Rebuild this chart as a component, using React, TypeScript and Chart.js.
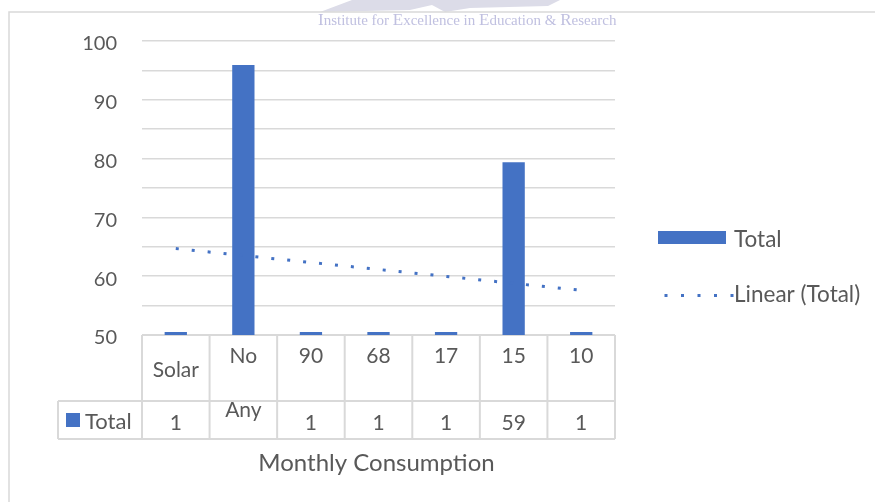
import React, { useEffect, useRef } from "react";
import { Chart, registerables } from "chart.js";

Chart.register(...registerables);

// ---- data ----
const categories: string[] = ["Solar", "No Any", "90", "68", "17", "15", "10"];
const barValues: number[] = [50.5, 95.9, 50.5, 50.5, 50.5, 79.4, 50.5];
const tableValues: string[] = ["1", "", "1", "1", "1", "59", "1"];
const trendStart = 64.7;
const trendEnd = 57.6;
const yMin = 50;
const yMax = 100;
const yStep = 5;
const yLabelEvery = 10;
const seriesName = "Total";
const trendName = "Linear (Total)";
const axisTitle = "Monthly Consumption";
const watermark = "Institute for Excellence in Education & Research";

// ---- styles ----
const BLUE = "#4472C4";
const GRID = "#d9d9d9";
const TEXT = "#595959";
const FONT = "Lato, 'Open Sans', sans-serif";

const trendData: (number | null)[] = categories.map((_, i) =>
  i === 0 ? trendStart : i === categories.length - 1 ? trendEnd : null
);

function line(ctx: CanvasRenderingContext2D, x1: number, y1: number, x2: number, y2: number) {
  ctx.beginPath();
  ctx.moveTo(x1, y1);
  ctx.lineTo(x2, y2);
  ctx.stroke();
}

const decorPlugin = {
  id: "decor",
  beforeDraw(chart: any) {
    const ctx: CanvasRenderingContext2D = chart.ctx;
    ctx.save();
    ctx.fillStyle = "#ffffff";
    ctx.fillRect(0, 0, chart.width, chart.height);
    // faint logo shape
    ctx.fillStyle = "#dcdce8";
    ctx.beginPath();
    ctx.moveTo(320, 12);
    ctx.lineTo(352, 0);
    ctx.lineTo(560, 0);
    ctx.lineTo(548, 6);
    ctx.lineTo(470, 8);
    ctx.lineTo(445, 12);
    ctx.lineTo(432, 5);
    ctx.lineTo(410, 10);
    ctx.closePath();
    ctx.fill();
    // outer border
    ctx.strokeStyle = GRID;
    ctx.lineWidth = 1.5;
    ctx.beginPath();
    ctx.moveTo(9, chart.height);
    ctx.lineTo(9, 12);
    ctx.lineTo(chart.width, 12);
    ctx.stroke();
    // watermark
    ctx.fillStyle = "#c0c0e0";
    ctx.textBaseline = "alphabetic";
    ctx.textAlign = "left";
    let x = 318;
    const y = 25;
    for (const ch of watermark) {
      const big = ch >= "A" && ch <= "Z";
      ctx.font = `${big ? 17 : 15}px 'Liberation Serif', 'Times New Roman', serif`;
      ctx.fillText(ch, x, y);
      x += ctx.measureText(ch).width;
    }
    ctx.restore();
  },
  beforeDatasetsDraw(chart: any) {
    const ctx: CanvasRenderingContext2D = chart.ctx;
    const { left, right, bottom } = chart.chartArea;
    const n = categories.length;
    const colW = (right - left) / n;
    const row1B = bottom + 66;
    const row2B = row1B + 38;
    const keyLeft = left - 84;
    ctx.save();
    ctx.strokeStyle = GRID;
    ctx.lineWidth = 2;
    line(ctx, left, bottom, right, bottom);
    line(ctx, keyLeft, row1B, right, row1B);
    line(ctx, keyLeft, row2B, right, row2B);
    for (let i = 0; i <= n; i++) {
      const xv = left + i * colW;
      line(ctx, xv, bottom, xv, row2B);
    }
    line(ctx, keyLeft, row1B, keyLeft, row2B);
    ctx.restore();
  },
  afterDraw(chart: any) {
    const ctx: CanvasRenderingContext2D = chart.ctx;
    const { left, right, bottom } = chart.chartArea;
    const xs = chart.scales.x;
    const row1B = bottom + 66;
    const keyLeft = left - 84;
    ctx.save();
    ctx.fillStyle = TEXT;
    ctx.font = `21px ${FONT}`;
    ctx.textAlign = "center";
    ctx.textBaseline = "middle";
    categories.forEach((lbl, i) => {
      const cx = xs.getPixelForValue(i);
      const lines = lbl.split(" ");
      const numeric = /^\d+$/.test(lbl);
      if (lines.length === 1 && !numeric) {
        ctx.fillText(lbl, cx, bottom + 35);
      } else {
        lines.forEach((t, k) => ctx.fillText(t, cx, bottom + 21 + k * 54));
      }
      if (tableValues[i]) ctx.fillText(tableValues[i], cx, row1B + 22);
    });
    // key cell
    ctx.fillStyle = BLUE;
    ctx.fillRect(keyLeft + 8, row1B + 12, 14, 14);
    ctx.fillStyle = TEXT;
    ctx.font = `22px ${FONT}`;
    ctx.textAlign = "left";
    ctx.fillText(seriesName, keyLeft + 27, row1B + 21);
    // axis title
    ctx.font = `24px ${FONT}`;
    ctx.textAlign = "center";
    ctx.fillText(axisTitle, (left + right) / 2 - 2, bottom + 128);
    // legend
    ctx.fillStyle = BLUE;
    ctx.fillRect(658, 231, 68, 13);
    for (let x = 664.5; x <= 732; x += 16.5) {
      ctx.fillRect(x, 294, 3, 3);
    }
    ctx.fillStyle = TEXT;
    ctx.font = `22.5px ${FONT}`;
    ctx.textAlign = "left";
    ctx.fillText(seriesName, 734, 240);
    ctx.fillText(trendName, 734, 295);
    ctx.restore();
  },
};

export default function App() {
  const ref = useRef<HTMLCanvasElement | null>(null);
  useEffect(() => {
    document.body.style.margin = "0";
    const canvas = ref.current!;
    const chart = new Chart(canvas, {
      type: "bar",
      data: {
        labels: categories,
        datasets: [
          {
            type: "line",
            label: trendName,
            data: trendData,
            borderColor: BLUE,
            borderWidth: 3,
            borderDash: [3, 13],
            borderCapStyle: "butt",
            pointRadius: 0,
            spanGaps: true,
            fill: false,
            order: 0,
          } as any,
          {
            type: "bar",
            label: seriesName,
            data: barValues,
            backgroundColor: BLUE,
            barPercentage: 0.33,
            categoryPercentage: 1,
            order: 1,
          },
        ],
      },
      options: {
        responsive: false,
        animation: false,
        devicePixelRatio: 1,
        layout: { padding: { left: 0, top: 41, right: 260, bottom: 167 } },
        plugins: { legend: { display: false }, tooltip: { enabled: false }, title: { display: false } },
        scales: {
          x: {
            type: "category",
            grid: { display: false },
            border: { display: false },
            ticks: { display: false },
            afterFit: (s: any) => {
              s.height = 0;
            },
          },
          y: {
            min: yMin,
            max: yMax,
            border: { display: false },
            grid: { color: GRID, lineWidth: 1.5, drawTicks: false },
            ticks: {
              stepSize: yStep,
              padding: 25,
              color: TEXT,
              font: { family: FONT, size: 20 },
              labelOffset: 3,
              callback: (v: any) => (Number(v) % yLabelEvery === 0 ? String(v) : ""),
            },
            afterFit: (s: any) => {
              s.width = 142;
            },
          },
        },
      },
      plugins: [decorPlugin],
    });
    return () => chart.destroy();
  }, []);
  return (
    <div style={{ position: "fixed", left: 0, top: 0, width: 875, height: 502 }}>
      <canvas ref={ref} width={875} height={502} style={{ width: 875, height: 502 }} />
    </div>
  );
}
